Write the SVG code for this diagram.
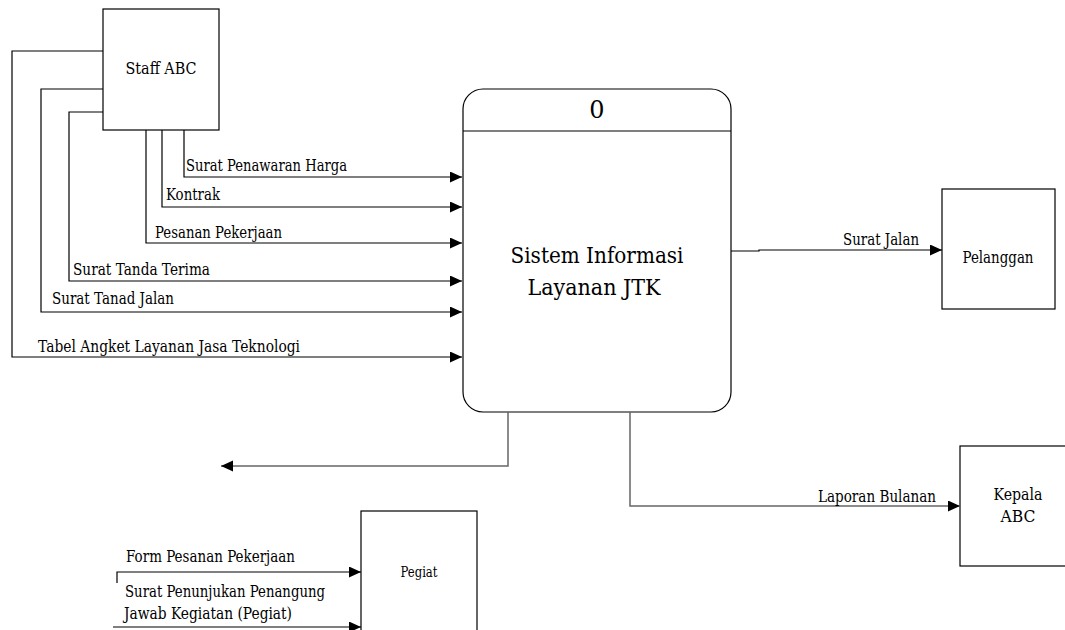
<svg xmlns="http://www.w3.org/2000/svg" width="1065" height="630" viewBox="0 0 1065 630">
  <style>
    .box { fill: #fff; stroke: #000; stroke-width: 1.2; }
    .flow { fill: none; stroke: #000; stroke-width: 1.2; marker-end: url(#arrow); }
    .flow-gray { fill: none; stroke: #666; stroke-width: 1.5; marker-end: url(#arrow); }
    .line { fill: none; stroke: #000; stroke-width: 1.2; }
    text { font-family: "DejaVu Serif", serif; fill: #000; font-size: 16px; }
    .mid { text-anchor: middle; }
  </style>
  <defs>
    <marker id="arrow" markerUnits="userSpaceOnUse" markerWidth="13" markerHeight="12" refX="12" refY="5.5" orient="auto">
      <path d="M0,0 L12,5.5 L0,11 Z" fill="#000"/>
    </marker>
  </defs>

  <!-- external entities -->
  <g id="staff-abc">
    <rect class="box" x="103" y="9" width="116" height="121"/>
    <text class="mid" x="161" y="74" textLength="71" lengthAdjust="spacingAndGlyphs">Staff ABC</text>
  </g>

  <g id="pelanggan">
    <rect class="box" x="942" y="189" width="113" height="120"/>
    <text class="mid" x="998" y="263" textLength="71" lengthAdjust="spacingAndGlyphs">Pelanggan</text>
  </g>

  <g id="kepala-abc">
    <rect class="box" x="960" y="446" width="116" height="120"/>
    <text class="mid" x="1018" y="500" textLength="49" lengthAdjust="spacingAndGlyphs">Kepala</text>
    <text class="mid" x="1018" y="522" textLength="35" lengthAdjust="spacingAndGlyphs">ABC</text>
  </g>

  <g id="pegiat">
    <rect class="box" x="361" y="511" width="116" height="130"/>
    <text class="mid" x="419" y="577" style="font-size:14px" textLength="37" lengthAdjust="spacingAndGlyphs">Pegiat</text>
  </g>

  <!-- process 0 -->
  <g id="process-0">
    <rect class="box" x="463" y="89" width="268" height="323" rx="20" ry="20"/>
    <line class="line" x1="463" y1="131" x2="731" y2="131"/>
    <text class="mid" x="597" y="118" style="font-size:24px">0</text>
    <text class="mid" x="597" y="263" style="font-size:23px" textLength="173" lengthAdjust="spacingAndGlyphs">Sistem Informasi</text>
    <text class="mid" x="594" y="295" style="font-size:23px" textLength="133" lengthAdjust="spacingAndGlyphs">Layanan JTK</text>
  </g>

  <!-- data flows -->
  <g id="connectors">
    <polyline class="flow" points="184,130 184,177 462,177"/>
    <polyline class="flow" points="162,130 162,207 462,207"/>
    <polyline class="flow" points="146,130 146,243 462,243"/>
    <polyline class="flow" points="103,112 69,112 69,281 462,281"/>
    <polyline class="flow" points="103,89 41,89 41,312 462,312"/>
    <polyline class="flow" points="103,51 12,51 12,357 462,357"/>

    <polyline class="flow" points="731,251 759,251 759,250 942,250"/>
    <polyline class="flow-gray" points="630,412 630,506 960,506"/>
    <polyline class="flow-gray" points="508,412 508,466 221,466"/>

    <polyline class="flow" points="117,583 117,572 361,572"/>
    <polyline class="flow" points="113,627 361,627"/>
  </g>

  <!-- flow labels -->
  <g id="labels">
    <text x="186" y="171" textLength="161" lengthAdjust="spacingAndGlyphs">Surat Penawaran Harga</text>
    <text x="166" y="200" textLength="54" lengthAdjust="spacingAndGlyphs">Kontrak</text>
    <text x="155" y="238" textLength="127" lengthAdjust="spacingAndGlyphs">Pesanan Pekerjaan</text>
    <text x="73" y="275" textLength="137" lengthAdjust="spacingAndGlyphs">Surat Tanda Terima</text>
    <text x="52" y="304" textLength="122" lengthAdjust="spacingAndGlyphs">Surat Tanad Jalan</text>
    <text x="38" y="352" textLength="262" lengthAdjust="spacingAndGlyphs">Tabel Angket Layanan Jasa Teknologi</text>
    <text x="843" y="245" textLength="76" lengthAdjust="spacingAndGlyphs">Surat Jalan</text>
    <text x="818" y="502" textLength="118" lengthAdjust="spacingAndGlyphs">Laporan Bulanan</text>
    <text x="126" y="562" textLength="169" lengthAdjust="spacingAndGlyphs">Form Pesanan Pekerjaan</text>
    <text x="125" y="597" textLength="200" lengthAdjust="spacingAndGlyphs">Surat Penunjukan Penangung</text>
    <text x="124" y="619" textLength="168" lengthAdjust="spacingAndGlyphs">Jawab Kegiatan (Pegiat)</text>
  </g>
</svg>
